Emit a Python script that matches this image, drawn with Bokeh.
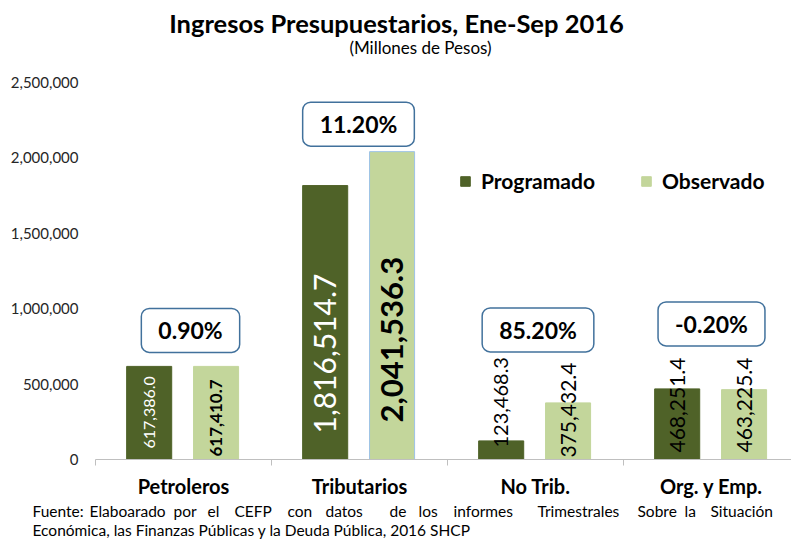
import math
from bokeh.plotting import figure
from bokeh.layouts import column
from bokeh.models import (ColumnDataSource, FixedTicker, NumeralTickFormatter, Legend,
                          LegendItem, Range1d)
from bokeh.core.properties import value
from bokeh.embed import file_html
from bokeh.resources import INLINE

# ---------------- data ----------------
categories = ["Petroleros", "Tributarios", "No Trib.", "Org. y Emp."]
programado = [617386.0, 1816514.7, 123468.3, 468251.4]
observado = [617410.7, 2041536.3, 375432.4, 463225.4]
variacion = ["0.90%", "11.20%", "85.20%", "-0.20%"]
y_ticks = [0, 500000, 1000000, 1500000, 2000000, 2500000]

title_text = "Ingresos Presupuestarios, Ene-Sep 2016"
subtitle_text = "(Millones de Pesos)"
foot_line1 = ["Fuente:", "Elaboarado", "por", "el", "CEFP", "con", "datos", "de", "los",
              "informes", "Trimestrales", "Sobre", "la", "Situación"]
foot_line2 = "Económica, las Finanzas Públicas y la Deuda Pública, 2016 SHCP"

# ---------------- styles ----------------
DARK = "#4F6228"
LIGHT = "#C3D69B"
FONT = "Lato"
W = 791
ML, MT, MB, MR = 95, 22, 14, 0
FH = 377
TOP_H = 60
MAIN_H = MT + FH + MB
BOT_H = 539 - TOP_H - MAIN_H
FW = W - ML - MR
CAT_PX = 176.0
XMAX = FW / CAT_PX
YMAX = 2500000


def text_fig(h):
    f = figure(width=W, height=h, output_backend="svg", toolbar_location=None,
               x_range=Range1d(0, W), y_range=Range1d(h, 0),
               x_axis_type=None, y_axis_type=None, frame_align=False,
               min_border_left=0, min_border_right=0, min_border_top=0, min_border_bottom=0)
    f.outline_line_color = None
    f.grid.visible = False
    return f


# ---------------- title ----------------
top = text_fig(TOP_H)
top.text(x=[396], y=[22], text=[title_text], text_align="center", text_baseline="middle",
         text_font=value(FONT), text_font_style="bold", text_font_size="25.5px",
         text_color="black")
top.text(x=[420], y=[47], text=[subtitle_text], text_align="center", text_baseline="middle",
         text_font=value(FONT), text_font_size="17px", text_color="black")

# ---------------- main chart ----------------
p = figure(width=W, height=MAIN_H, output_backend="svg", toolbar_location=None,
           x_range=Range1d(0, XMAX), y_range=Range1d(0, YMAX), frame_align=False,
           min_border_left=ML, min_border_top=MT, min_border_bottom=MB, min_border_right=MR)
p.outline_line_color = None
p.xgrid.visible = False
p.ygrid.visible = False

centers = [i + 0.5 for i in range(len(categories))]
off_dark, off_light, bw = -0.195, 0.185, 0.256
src = ColumnDataSource(dict(
    xd=[c + off_dark for c in centers],
    xl=[c + off_light for c in centers],
    prog=programado, obs=observado,
    lc_obs=[LIGHT, "#9DC3E6", LIGHT, LIGHT]))

r1 = p.vbar(x="xd", top="prog", width=bw, source=src, fill_color=DARK, line_color=DARK)
r2 = p.vbar(x="xl", top="obs", width=bw, source=src, fill_color=LIGHT, line_color="lc_obs")

p.xaxis.ticker = FixedTicker(ticks=[], minor_ticks=[0, 1, 2, 3])
p.xaxis.major_tick_line_color = None
p.xaxis.major_tick_out = 0
p.xaxis.minor_tick_line_color = "#BFBFBF"
p.xaxis.minor_tick_in = 0
p.xaxis.minor_tick_out = 6
p.xaxis.axis_line_color = "#BFBFBF"
p.xaxis.major_label_text_font_size = "0px"
p.xaxis.major_label_standoff = 0

p.yaxis.ticker = FixedTicker(ticks=y_ticks)
p.yaxis.formatter = NumeralTickFormatter(format="0,0")
p.yaxis.axis_line_color = None
p.yaxis.major_tick_line_color = None
p.yaxis.minor_tick_line_color = None
p.yaxis.major_label_text_font = FONT
p.yaxis.major_label_text_font_size = "15px"
p.yaxis.major_label_text_color = "#262626"
p.yaxis.major_label_standoff = 11


def fmt(v):
    return f"{v:,.1f}"


lab_x = [c + off_dark for c in centers] + [c + off_light for c in centers]
lab_txt = [fmt(v) for v in programado] + [fmt(v) for v in observado]
lab_base = [0] * 8
lab_off = [-11, -26, -12, -7, -3, -37, -2, -7]
lab_size = ["16px", "30px", "20px", "21px", "17px", "31px", "21px", "21px"]
lab_color = ["white", "white", "black", "black", "black", "black", "black", "black"]
lab_style = ["normal", "normal", "normal", "normal", "bold", "bold", "normal", "normal"]
lsrc = ColumnDataSource(dict(x=lab_x, y=lab_base, t=lab_txt, yo=lab_off, fs=lab_size,
                             c=lab_color, st=lab_style))
p.text(x="x", y="y", text="t", y_offset="yo", angle=math.pi / 2, source=lsrc,
       text_align="left", text_baseline="middle", text_font=value(FONT),
       text_font_size="fs", text_color="c", text_font_style="st")

box_y = [max(a, b) for a, b in zip(programado, observado)]
box_xo = [7, -1, 2.5, 0]
box_yo = [-36, -27.5, -73, -65]
bsrc = ColumnDataSource(dict(x=centers, y=box_y, t=variacion, xo=box_xo, yo=box_yo))
p.text(x="x", y="y", text="t", x_offset="xo", y_offset="yo", source=bsrc,
       text_align="center", text_baseline="middle", text_font=value(FONT),
       text_font_size="23px", text_font_style="bold", text_color="black",
       background_fill_color="white", border_line_color="#41719C", border_line_width=1.5,
       padding=dict(left=17, right=17, top=8, bottom=8), border_radius=8)

legend = Legend(items=[LegendItem(label="Programado", renderers=[r1]),
                       LegendItem(label="Observado", renderers=[r2])],
                orientation="horizontal", location=(364, 266),
                glyph_width=12, glyph_height=12, label_standoff=10, spacing=45,
                padding=0, margin=0, border_line_color=None, background_fill_alpha=0,
                label_text_font=FONT, label_text_font_style="bold",
                label_text_font_size="21px", label_text_color="black", label_height=14)
p.add_layout(legend, "center")

# ---------------- category labels + footnote ----------------
bot = text_fig(BOT_H)
cat_px = [ML + c * CAT_PX for c in centers]
bot.text(x=cat_px, y=[12.5] * len(categories), text=categories, text_align="center",
         text_baseline="middle", text_font=value(FONT), text_font_style="bold",
         text_font_size="20px", text_color="black")
line1_px = [32, 89, 173, 207, 234, 287, 325, 389, 418, 453, 537, 637, 684, 710]
bot.text(x=line1_px, y=[37] * len(foot_line1), text=foot_line1, text_align="left",
         text_baseline="middle", text_font=value(FONT), text_font_size="15.5px",
         text_color="black")
bot.text(x=[32], y=[56.5], text=[foot_line2], text_align="left", text_baseline="middle",
         text_font=value(FONT), text_font_size="15.5px", text_color="black")

layout = column(top, p, bot, spacing=0)
open("out.html", "w").write(file_html(layout, INLINE))
